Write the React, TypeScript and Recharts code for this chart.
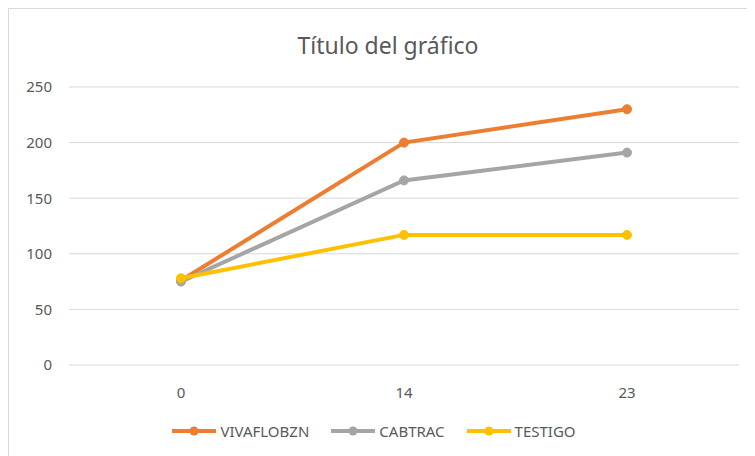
import { CartesianGrid, Legend, Line, LineChart, XAxis, YAxis } from "recharts";

const days = ["0", "14", "23"];
const vivaflobzn = [76, 200, 230];
const cabtrac = [75, 166, 191];
const testigo = [78, 117, 117];
const yTicks = [0, 50, 100, 150, 200, 250];

const series = [
  { key: "VIVAFLOBZN", values: vivaflobzn, color: "#ED7D31" },
  { key: "CABTRAC", values: cabtrac, color: "#A5A5A5" },
  { key: "TESTIGO", values: testigo, color: "#FFC000" }
];

const data = days.map((day, i) => {
  const row: Record<string, string | number> = { day };
  series.forEach((s) => {
    row[s.key] = s.values[i];
  });
  return row;
});

const font = "'Noto Sans', 'Open Sans', sans-serif";
const textColor = "#595959";

function LegendRow() {
  return (
    <div style={{ display: "flex", justifyContent: "center", gap: 22, fontFamily: font, fontSize: 15, color: textColor }}>
      {series.map((s) => (
        <div key={s.key} style={{ display: "flex", alignItems: "center", gap: 4 }}>
          <svg width={44} height={12}>
            <line x1={0} y1={6} x2={44} y2={6} stroke={s.color} strokeWidth={4} />
            <circle cx={22} cy={6} r={4.5} fill={s.color} />
          </svg>
          <span>{s.key}</span>
        </div>
      ))}
    </div>
  );
}

export default function App() {
  return (
    <>
      <style>{`body{overflow:hidden}`}</style>
      <div style={{ position: "relative", width: 760, height: 460, border: "1px solid #d9d9d9", background: "#fff" }}>
        <div
          style={{
            position: "absolute",
            top: 20,
            left: 0,
            width: 758,
            textAlign: "center",
            fontFamily: font,
            fontSize: 23,
            color: textColor
          }}
        >
          Título del gráfico
        </div>
        <LineChart width={750} height={447} data={data} margin={{ top: 78, right: 20, bottom: 15, left: 0 }}>
          <CartesianGrid vertical={false} stroke="#d9d9d9" />
          <XAxis
            dataKey="day"
            axisLine={false}
            tickLine={false}
            tickSize={0}
            tickMargin={22}
            height={56}
            padding={{ left: 112, right: 112 }}
            tick={{ fill: textColor, fontSize: 15, fontFamily: font }}
          />
          <YAxis
            domain={[0, 250]}
            ticks={yTicks}
            axisLine={false}
            tickLine={false}
            tickSize={0}
            tickMargin={17}
            width={60}
            tick={{ fill: textColor, fontSize: 15, fontFamily: font }}
          />
          <Legend verticalAlign="bottom" content={() => <LegendRow />} />
          {series.map((s) => (
            <Line
              key={s.key}
              dataKey={s.key}
              stroke={s.color}
              strokeWidth={4}
              dot={{ r: 4.5, fill: s.color, stroke: s.color, strokeWidth: 1 }}
              activeDot={false}
              isAnimationActive={false}
            />
          ))}
        </LineChart>
      </div>
    </>
  );
}
